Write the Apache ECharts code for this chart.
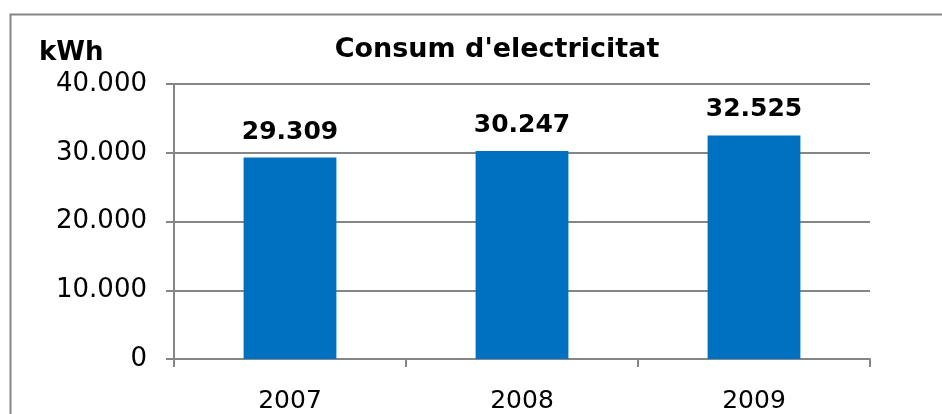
<!DOCTYPE html>
<html>
<head>
<meta charset="utf-8">
<script src="https://cdn.jsdelivr.net/npm/echarts@6/dist/echarts.min.js"></script>
<style>html,body{margin:0;padding:0;background:#fff;overflow:hidden}#c{width:942px;height:414px}</style>
</head>
<body>
<div id="c"></div>
<script>
var categories = ['2007', '2008', '2009'];
var values = [29309, 30247, 32525];
var yTicks = [0, 10000, 20000, 30000, 40000];
var titleText = "Consum d'electricitat";
var unitText = 'kWh';

function fmt(v) {
  return String(v).replace(/\B(?=(\d{3})+(?!\d))/g, '.');
}
var chart = echarts.init(document.getElementById('c'));
var gray = '#868686';
var font = 'DejaVu Sans';
chart.setOption({
  animation: false,
  graphic: [
    { type: 'rect', left: 8, top: 12, shape: { width: 1000, height: 500 }, style: { fill: 'none', stroke: gray, lineWidth: 2 } },
    { type: 'text', left: 39, top: 40, style: { text: unitText, font: 'bold 26px "DejaVu Sans"', fill: '#000' } }
  ],
  title: {
    text: titleText, left: 492, top: 31, textAlign: 'center',
    textStyle: { fontFamily: font, fontWeight: 'bold', fontSize: 27, color: '#000' }
  },
  grid: { left: 174, right: 72, top: 84, bottom: 50, containLabel: false },
  xAxis: {
    type: 'category', data: categories,
    axisLine: { lineStyle: { color: gray, width: 2 } },
    axisTick: { show: true, length: 8, lineStyle: { color: gray, width: 2 } },
    axisLabel: { margin: 30, fontFamily: font, fontSize: 25, color: '#000' }
  },
  yAxis: {
    type: 'value', min: yTicks[0], max: yTicks[yTicks.length - 1], interval: yTicks[1] - yTicks[0],
    axisLine: { show: true, lineStyle: { color: gray, width: 2 } },
    axisTick: { show: true, length: 8, lineStyle: { color: gray, width: 2 } },
    splitLine: { lineStyle: { color: gray, width: 2 } },
    axisLabel: { margin: 27, fontFamily: font, fontSize: 26, color: '#000', formatter: fmt }
  },
  series: [{
    type: 'bar', data: values, barWidth: '40%',
    itemStyle: { color: '#0070C0' },
    label: { show: true, position: 'top', distance: 13, fontFamily: font, fontWeight: 'bold', fontSize: 25, color: '#000', formatter: function (p) { return fmt(p.value); } }
  }]
});
</script>
</body>
</html>
